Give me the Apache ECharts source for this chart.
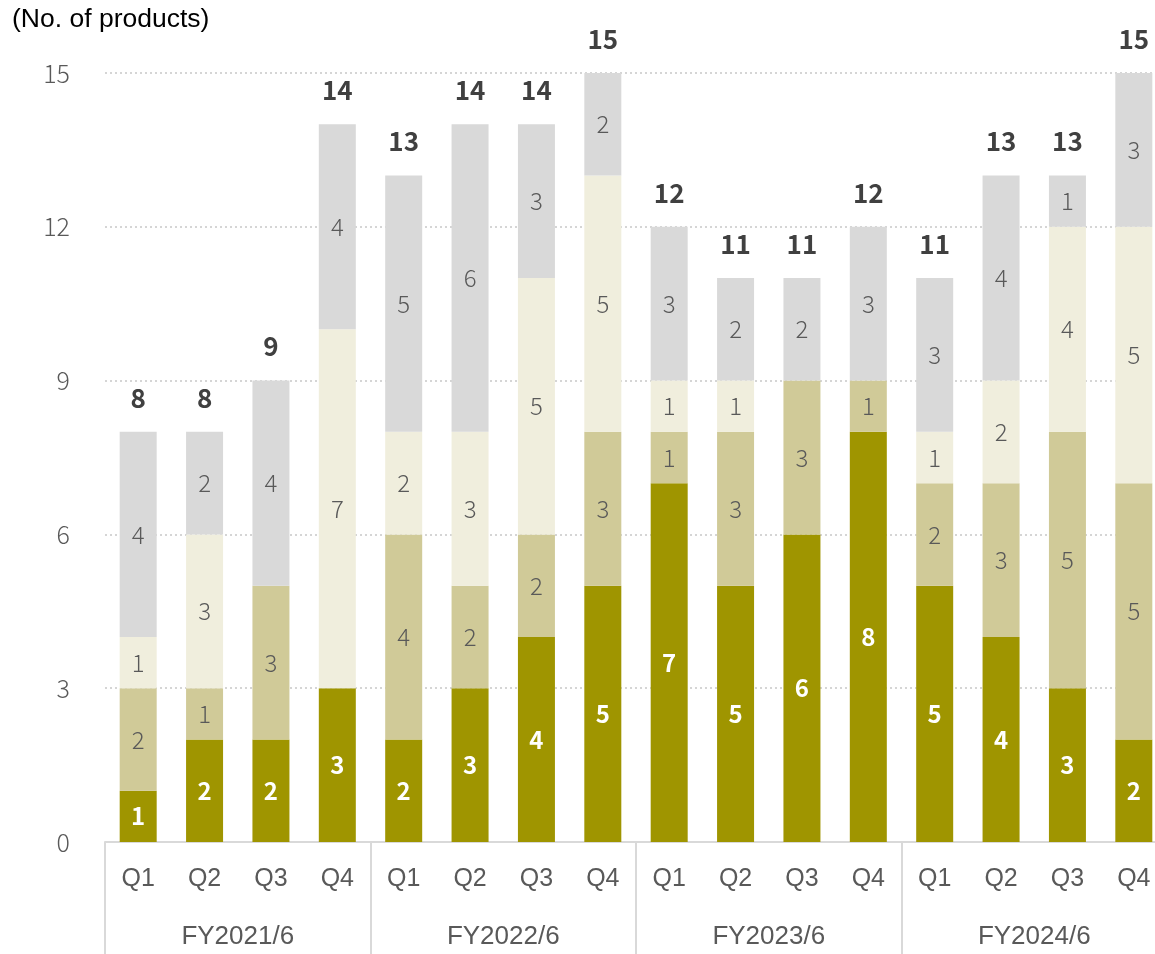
<!DOCTYPE html>
<html>
<head>
<meta charset="utf-8">
<script src="https://cdn.jsdelivr.net/npm/echarts@6/dist/echarts.min.js"></script>
<style>
  html, body { margin: 0; padding: 0; background: #ffffff; overflow: hidden; }
  #chart { width: 1170px; height: 954px; }
</style>
</head>
<body>
<div id="chart"></div>
<script>
// Quarter labels and fiscal-year groups
const quarters = ['Q1','Q2','Q3','Q4','Q1','Q2','Q3','Q4','Q1','Q2','Q3','Q4','Q1','Q2','Q3','Q4'];
const fiscalYears = ['FY2021/6', 'FY2022/6', 'FY2023/6', 'FY2024/6'];

// Number of products per segment, bottom to top of each stack
const segmentA = [1, 2, 2, 3, 2, 3, 4, 5, 7, 5, 6, 8, 5, 4, 3, 2];
const segmentB = [2, 1, 3, 0, 4, 2, 2, 3, 1, 3, 3, 1, 2, 3, 5, 5];
const segmentC = [1, 3, 0, 7, 2, 3, 5, 5, 1, 1, 0, 0, 1, 2, 4, 5];
const segmentD = [4, 2, 4, 4, 5, 6, 3, 2, 3, 2, 2, 3, 3, 4, 1, 3];

const yTicks = { min: 0, max: 15, interval: 3 };

const totals = quarters.map((_, i) => segmentA[i] + segmentB[i] + segmentC[i] + segmentD[i]);

const thinFont = '"Noto Sans CJK JP", "Noto Sans", sans-serif';
const sansFont = '"Liberation Sans", Arial, sans-serif';

function segLabel(color, weight) {
  return {
    show: true,
    position: 'inside',
    color: color,
    fontSize: 24,
    fontWeight: weight,
    fontFamily: thinFont,
    formatter: p => (p.value ? String(p.value) : '')
  };
}

function barSeries(name, data, color, label) {
  return {
    name: name,
    type: 'bar',
    stack: 'total',
    data: data,
    barWidth: 37,
    itemStyle: { color: color },
    label: label,
    emphasis: { disabled: true },
    animation: false
  };
}

const chart = echarts.init(document.getElementById('chart'), null, { renderer: 'canvas' });

chart.setOption({
  backgroundColor: '#ffffff',
  animation: false,
  title: {
    text: '(No. of products)',
    left: 12,
    top: 6,
    padding: 0,
    textStyle: { fontSize: 26.5, fontWeight: 'normal', color: '#000000', fontFamily: sansFont }
  },
  grid: { left: 105, top: 73, width: 1062, height: 769, containLabel: false },
  xAxis: [
    {
      type: 'category',
      data: quarters,
      position: 'bottom',
      axisLine: { show: true, lineStyle: { color: '#d9d9d9', width: 2 } },
      axisTick: { show: false },
      axisLabel: { color: '#595959', fontSize: 25, fontFamily: sansFont, margin: 25 }
    },
    {
      type: 'category',
      data: fiscalYears,
      position: 'bottom',
      axisLine: { show: false },
      axisTick: { show: true, length: 112, lineStyle: { color: '#d9d9d9', width: 2 } },
      axisLabel: { color: '#595959', fontSize: 26, fontFamily: sansFont, margin: 82 }
    }
  ],
  yAxis: {
    type: 'value',
    min: yTicks.min,
    max: yTicks.max,
    interval: yTicks.interval,
    axisLine: { show: false },
    axisTick: { show: false },
    axisLabel: { color: '#595959', fontSize: 25, fontFamily: thinFont, fontWeight: 300, margin: 35 },
    splitLine: { show: true, lineStyle: { color: '#c8c8c8', type: [2, 3], width: 1.5 } }
  },
  series: [
    barSeries('A', segmentA, '#9f9500', segLabel('#ffffff', 'bold')),
    barSeries('B', segmentB, '#d0ca98', segLabel('#595959', 300)),
    barSeries('C', segmentC, '#f0eedd', segLabel('#595959', 300)),
    barSeries('D', segmentD, '#d9d9d9', segLabel('#595959', 300)),
    {
      // stack totals written above each column
      name: 'Total',
      type: 'scatter',
      data: totals,
      symbolSize: 0,
      silent: true,
      animation: false,
      itemStyle: { opacity: 1 },
      label: {
        show: true,
        position: 'top',
        distance: 21,
        color: '#404040',
        opacity: 1,
        fontSize: 26,
        fontWeight: 'bold',
        fontFamily: thinFont,
        formatter: p => String(p.value)
      }
    }
  ]
});
</script>
</body>
</html>
